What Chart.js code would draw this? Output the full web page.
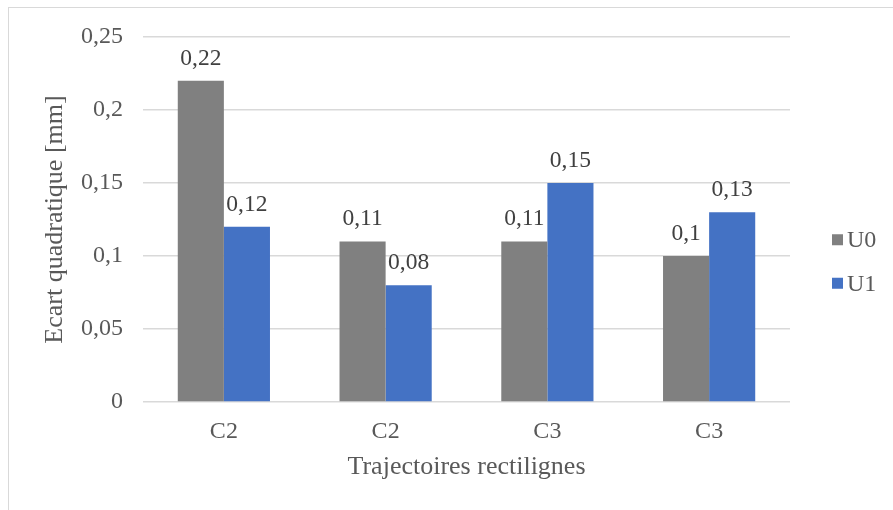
<!DOCTYPE html>
<html>
<head>
<meta charset="utf-8">
<script src="https://cdn.jsdelivr.net/npm/chart.js@4"></script>
<style>
  html, body { margin: 0; padding: 0; background: #fff; }
  #wrap { position: relative; width: 893px; height: 510px; overflow: hidden; }
  #frame { position: absolute; left: 8px; top: 7px; width: 900px; height: 520px; border: 1px solid #d9d9d9; box-sizing: border-box; }
  canvas { position: absolute; left: 0; top: 0; }
</style>
</head>
<body>
<div id="wrap">
  <div id="frame"></div>
  <canvas id="chart" width="893" height="510"></canvas>
</div>
<script>
  // données
  const categories = ["C2", "C2", "C3", "C3"];
  const u0Values = [0.22, 0.11, 0.11, 0.1];
  const u1Values = [0.12, 0.08, 0.15, 0.13];
  const seriesNames = ["U0", "U1"];

  const FONT = "'Liberation Serif', 'Times New Roman', serif";
  const fmt = v => String(Math.round(v * 100) / 100).replace(".", ",");

  // étiquettes de données au-dessus des barres
  const barLabels = {
    id: "barLabels",
    afterDatasetsDraw(chart) {
      const ctx = chart.ctx;
      ctx.save();
      ctx.font = "23.5px " + FONT;
      ctx.fillStyle = "#404040";
      ctx.textAlign = "center";
      ctx.textBaseline = "alphabetic";
      chart.data.datasets.forEach((ds, i) => {
        chart.getDatasetMeta(i).data.forEach((bar, j) => {
          ctx.fillText(fmt(ds.data[j]), bar.x, bar.y - 16);
        });
      });
      ctx.restore();
    }
  };

  // légende à droite, façon Excel
  const sideLegend = {
    id: "sideLegend",
    afterDraw(chart) {
      const ctx = chart.ctx;
      ctx.save();
      ctx.font = "24px " + FONT;
      ctx.textBaseline = "middle";
      const n = chart.data.datasets.length;
      chart.data.datasets.forEach((ds, i) => {
        const y = 261.5 + (i - (n - 1) / 2) * 43.5;
        ctx.fillStyle = ds.backgroundColor;
        ctx.fillRect(832, y - 5.5, 11, 11);
        ctx.fillStyle = "#595959";
        ctx.fillText(ds.label, 847, y + 1);
      });
      ctx.restore();
    }
  };

  Chart.defaults.font.family = FONT;
  Chart.defaults.font.size = 24;
  Chart.defaults.color = "#595959";

  new Chart(document.getElementById("chart"), {
    type: "bar",
    data: {
      labels: categories,
      datasets: [
        { label: seriesNames[0], data: u0Values, backgroundColor: "#808080" },
        { label: seriesNames[1], data: u1Values, backgroundColor: "#4472c4" }
      ]
    },
    options: {
      responsive: false,
      animation: false,
      layout: { padding: { left: 0, right: 103, top: 37, bottom: 0 } },
      datasets: { bar: { barPercentage: 1, categoryPercentage: 0.57 } },
      plugins: {
        legend: { display: false },
        tooltip: { enabled: false }
      },
      scales: {
        x: {
          afterFit: s => { s.height = 108; },
          grid: { display: false, drawTicks: false },
          border: { display: false },
          ticks: { color: "#595959", padding: 15 },
          title: { display: true, text: "Trajectoires rectilignes", color: "#595959", font: { size: 26 }, padding: { top: 0, bottom: 27 } }
        },
        y: {
          afterFit: s => { s.width = 143; },
          min: 0,
          max: 0.25,
          grid: { color: "#d9d9d9", lineWidth: 1.5, drawTicks: false },
          border: { display: false },
          ticks: { stepSize: 0.05, padding: 20, color: "#595959", callback: v => fmt(v) },
          title: { display: true, text: "Ecart quadratique [mm]", color: "#595959", font: { size: 26 }, padding: { top: 40, bottom: 0 } }
        }
      }
    },
    plugins: [barLabels, sideLegend]
  });
</script>
</body>
</html>
